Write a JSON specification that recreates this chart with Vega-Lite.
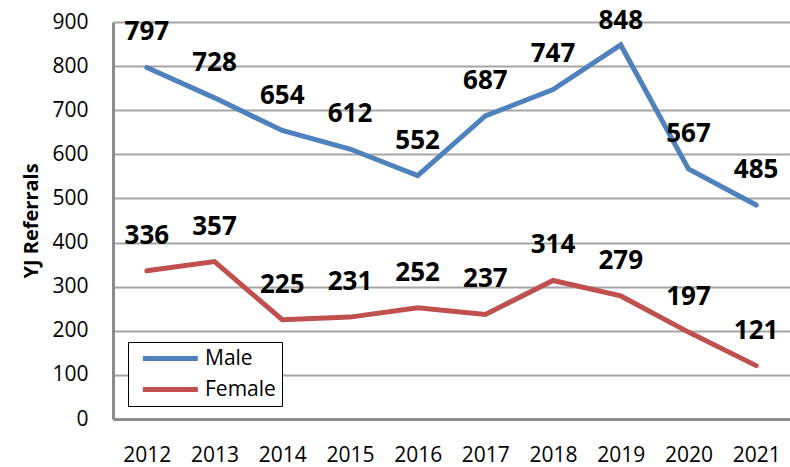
{
  "$schema": "https://vega.github.io/schema/vega-lite/v6.json",
  "width": 677,
  "height": 397,
  "autosize": {"type": "none"},
  "padding": {"left": 113, "top": 22, "right": 0, "bottom": 48},
  "background": "white",
  "data": {"values": [
    {"year": "2012", "series": "Male", "value": 797},
    {"year": "2013", "series": "Male", "value": 728},
    {"year": "2014", "series": "Male", "value": 654},
    {"year": "2015", "series": "Male", "value": 612},
    {"year": "2016", "series": "Male", "value": 552},
    {"year": "2017", "series": "Male", "value": 687},
    {"year": "2018", "series": "Male", "value": 747},
    {"year": "2019", "series": "Male", "value": 848},
    {"year": "2020", "series": "Male", "value": 567},
    {"year": "2021", "series": "Male", "value": 485},
    {"year": "2012", "series": "Female", "value": 336},
    {"year": "2013", "series": "Female", "value": 357},
    {"year": "2014", "series": "Female", "value": 225},
    {"year": "2015", "series": "Female", "value": 231},
    {"year": "2016", "series": "Female", "value": 252},
    {"year": "2017", "series": "Female", "value": 237},
    {"year": "2018", "series": "Female", "value": 314},
    {"year": "2019", "series": "Female", "value": 279},
    {"year": "2020", "series": "Female", "value": 197},
    {"year": "2021", "series": "Female", "value": 121}
  ]},
  "config": {
    "view": {"stroke": null},
    "font": "Open Sans"
  },
  "encoding": {
    "x": {
      "field": "year", "type": "ordinal",
      "scale": {"type": "point", "padding": 0.5},
      "axis": {
        "title": null, "labelAngle": 0, "ticks": false, "grid": false,
        "domainColor": "#8c8c8c", "domainWidth": 3,
        "labelFont": "Open Sans", "labelFontSize": 21, "labelColor": "#000",
        "labelPadding": 25
      }
    },
    "y": {
      "field": "value", "type": "quantitative",
      "scale": {"domain": [0, 900], "nice": false},
      "axis": {
        "title": "YJ Referrals", "titleFont": "Open Sans", "titleFontSize": 20,
        "titleFontWeight": "bold", "titleColor": "#000", "titlePadding": 10,
        "values": [0, 100, 200, 300, 400, 500, 600, 700, 800, 900],
        "ticks": false, "grid": true, "gridColor": "#a6a6a6", "gridWidth": 2,
        "domainColor": "#8c8c8c", "domainWidth": 3,
        "labelFont": "Open Sans", "labelFontSize": 21, "labelColor": "#000",
        "labelPadding": 25
      }
    },
    "color": {
      "field": "series", "type": "nominal",
      "scale": {"domain": ["Male", "Female"], "range": ["#4f81bd", "#c0504d"]},
      "legend": {
        "title": null, "orient": "none", "legendX": 15, "legendY": 320,
        "strokeColor": "#000", "padding": 6, "fillColor": "white",
        "symbolType": "M-0.3,0H9.7", "symbolStrokeWidth": 5, "symbolSize": 121,
        "labelFont": "Open Sans", "labelFontSize": 21, "labelColor": "#000",
        "rowPadding": 9, "labelOffset": 50
      }
    }
  },
  "layer": [
    {"mark": {"type": "line", "strokeWidth": 5, "strokeCap": "round"}},
    {
      "transform": [{"filter": "datum.value < 840"}],
      "mark": {"type": "text", "dy": -35, "fontSize": 26, "fontWeight": "bold", "font": "Open Sans", "color": "#000"},
      "encoding": {"text": {"field": "value"}, "color": {"value": "#000"}}
    },
    {
      "transform": [{"filter": "datum.value >= 840"}],
      "mark": {"type": "text", "dy": -24, "fontSize": 26, "fontWeight": "bold", "font": "Open Sans", "color": "#000"},
      "encoding": {"text": {"field": "value"}, "color": {"value": "#000"}}
    }
  ]
}
